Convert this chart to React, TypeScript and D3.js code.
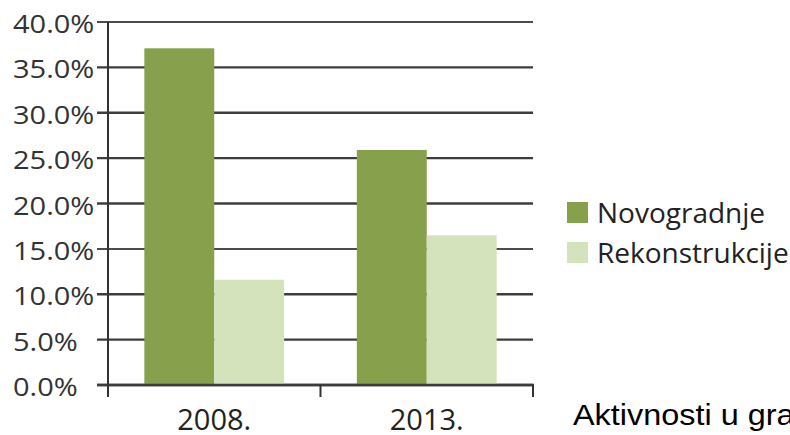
import React from "react";
import * as d3 from "d3";

const categories = ["2008.", "2013."];
const seriesNames = ["Novogradnje", "Rekonstrukcije"];
const novogradnje = [0.371, 0.259];
const rekonstrukcije = [0.116, 0.165];
const yTicks = [0, 0.05, 0.1, 0.15, 0.2, 0.25, 0.3, 0.35, 0.4];
const caption = "Aktivnosti u građevinarstvu";

const colors = ["#86A04B", "#D5E3BC"];

export default function App() {
  const W = 790;
  const H = 435;
  const left = 108;
  const right = 533;
  const top = 22;
  const bottom = 385;

  const y = d3.scaleLinear().domain([0, 0.4]).range([bottom, top]);
  const x0 = d3.scaleBand<string>().domain(categories).range([left, right]).padding(0);
  const x1 = d3
    .scaleBand<string>()
    .domain(seriesNames)
    .range([0, x0.bandwidth()])
    .paddingInner(0)
    .paddingOuter(0.52);
  const fmt = d3.format(".1%");
  const values = [novogradnje, rekonstrukcije];

  return (
    <svg
      width={W}
      height={H}
      viewBox={`0 0 ${W} ${H}`}
      style={{ position: "absolute", left: 0, top: 0, background: "#fff" }}
    >
      <rect x={0} y={0} width={W} height={H} fill="#fff" />
      {/* gridlines + ticks */}
      {yTicks.map((t) => (
        <line
          key={"g" + t}
          x1={97}
          x2={right}
          y1={y(t)}
          y2={y(t)}
          stroke={t === 0.15 || t === 0.4 ? "#111" : "#3d3d3d"}
          strokeWidth={t === 0.15 || t === 0.4 ? 1.5 : 2.4}
        />
      ))}
      {/* bars */}
      {categories.map((c, i) => (
        <g key={c} transform={`translate(${x0(c)},0)`}>
          {seriesNames.map((s, j) => (
            <rect
              key={s}
              x={x1(s)}
              y={y(values[j][i])}
              width={x1.bandwidth()}
              height={y(0) - y(values[j][i])}
              fill={colors[j]}
            />
          ))}
        </g>
      ))}
      {/* x axis line */}
      <line x1={97} x2={right + 1} y1={y(0)} y2={y(0)} stroke="#3d3d3d" strokeWidth={2.4} />
      {/* y axis line */}
      <line x1={left} x2={left} y1={top} y2={397} stroke="#333" strokeWidth={2} />
      {/* x ticks at category boundaries */}
      {categories.map((c) => (
        <line
          key={"t" + c}
          x1={(x0(c) as number) + x0.bandwidth()}
          x2={(x0(c) as number) + x0.bandwidth()}
          y1={y(0)}
          y2={397}
          stroke="#333"
          strokeWidth={2}
        />
      ))}
      {/* y labels */}
      {yTicks.map((t) => (
        <text
          key={"l" + t}
          transform={`translate(13,${y(t) + 11}) scale(1.16,1)`}
          fontFamily="'Open Sans', sans-serif"
          fontSize={25}
          fill="#333"
        >
          {fmt(t)}
        </text>
      ))}
      {/* x labels */}
      {categories.map((c) => (
        <text
          key={"x" + c}
          x={(x0(c) as number) + x0.bandwidth() / 2}
          y={430}
          textAnchor="middle"
          fontFamily="'Open Sans', sans-serif"
          fontSize={29}
          fill="#222"
        >
          {c}
        </text>
      ))}
      {/* legend */}
      {seriesNames.map((s, j) => (
        <g key={"lg" + s} transform={`translate(567,${202 + j * 40})`}>
          <rect x={0} y={0} width={21} height={21} fill={colors[j]} />
          <text
            x={30}
            y={21}
            fontFamily="'Open Sans', sans-serif"
            fontSize={28}
            fill="#222"
          >
            {s}
          </text>
        </g>
      ))}
      {/* caption */}
      <text
        transform="translate(573,425) scale(1.08,1)"
        fontFamily="'Liberation Sans', Arial, sans-serif"
        fontSize={30}
        fill="#000"
      >
        {caption}
      </text>
    </svg>
  );
}
